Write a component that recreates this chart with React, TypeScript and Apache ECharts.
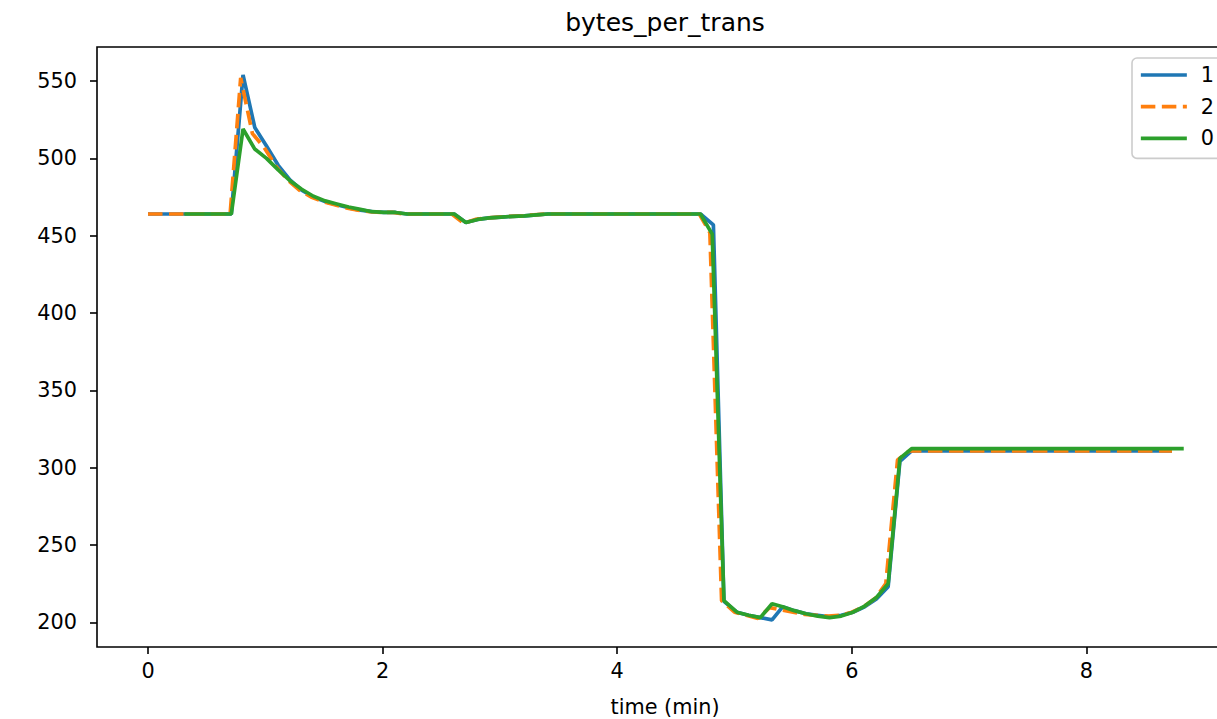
import React, { useEffect, useRef } from "react";
import * as echarts from "echarts";

// ---- data ----
const time1 = [0, 0.71, 0.81, 0.91, 1.01, 1.11, 1.21, 1.31, 1.41, 1.51, 1.61, 1.71, 1.81, 1.91, 2.01, 2.11, 2.21, 2.61, 2.71, 2.81, 2.91, 3.01, 3.11, 3.21, 3.31, 3.41, 4.71, 4.82, 4.91, 5.02, 5.12, 5.22, 5.32, 5.41, 5.51, 5.61, 5.71, 5.81, 5.91, 6.01, 6.11, 6.21, 6.31, 6.41, 6.51, 8.73];
const bytes1 = [464, 464, 554, 520, 508, 495.5, 486, 479.5, 475, 472, 470, 468, 466.5, 465.5, 465, 465, 464, 464, 458.5, 460.5, 461.5, 462, 462.5, 462.8, 463.5, 464, 464, 457, 213.5, 206.5, 204.5, 203, 201.5, 210, 207.5, 205.5, 204.5, 203.5, 204.5, 206.5, 210, 215, 223, 304, 310.8, 310.8];

const time2 = [0, 0.7, 0.79, 0.89, 0.99, 1.09, 1.19, 1.29, 1.39, 1.49, 1.59, 1.69, 1.79, 1.89, 1.99, 2.09, 2.19, 2.59, 2.69, 2.79, 2.89, 2.99, 3.09, 3.19, 3.29, 3.39, 4.7, 4.79, 4.89, 5.0, 5.1, 5.2, 5.3, 5.4, 5.5, 5.6, 5.7, 5.8, 5.9, 6.0, 6.1, 6.2, 6.29, 6.39, 6.49, 8.73];
const bytes2 = [464, 464, 552, 516, 507, 495, 486, 479.5, 475, 472, 470, 468, 466.5, 465.5, 465, 465, 464, 464, 458, 460.5, 461.5, 462, 462.5, 462.8, 463.5, 464, 464, 452, 214, 206.5, 204.5, 202.5, 209.5, 208, 206.5, 205, 204.5, 204, 204.5, 206.5, 210, 215.5, 225, 305, 310.8, 310.8];

const time0 = [0.31, 0.71, 0.81, 0.91, 1.01, 1.11, 1.21, 1.31, 1.41, 1.51, 1.61, 1.71, 1.81, 1.91, 2.01, 2.11, 2.21, 2.61, 2.71, 2.81, 2.91, 3.01, 3.11, 3.21, 3.31, 3.41, 4.71, 4.81, 4.91, 5.02, 5.12, 5.22, 5.32, 5.41, 5.51, 5.61, 5.71, 5.81, 5.91, 6.01, 6.11, 6.21, 6.31, 6.41, 6.51, 8.83];
const bytes0 = [464, 464, 519, 506, 500, 492.5, 485.5, 480, 475.5, 472.5, 470.5, 468.5, 467, 465.5, 465, 465, 464, 464, 458.5, 460.5, 461.5, 462, 462.5, 462.8, 463.5, 464, 464, 451, 214, 206.5, 204.5, 203, 212, 210, 207.5, 205.5, 204, 203, 204, 206.5, 210.5, 216, 225, 306, 312.3, 312.3];

const xTicks = [0, 2, 4, 6, 8];
const yTicks = [200, 250, 300, 350, 400, 450, 500, 550];
const seriesNames = ["1", "2", "0"];
const chartTitle = "bytes_per_trans";
const xName = "time (min)";

const FONT = "DejaVu Sans";

function zip(t: number[], v: number[]) {
  return t.map((x, i) => [x, v[i]]);
}

export default function App() {
  const ref = useRef<HTMLDivElement>(null);
  useEffect(() => {
    if (!ref.current) return;
    const chart = echarts.init(ref.current, undefined, { renderer: "svg" });
    const lineW = 3.7;
    chart.setOption({
      animation: false,
      backgroundColor: "#ffffff",
      textStyle: { fontFamily: FONT },
      graphic: [
        {
          type: "text",
          x: 665,
          y: 22,
          style: {
            text: chartTitle,
            fontSize: 25,
            fontFamily: FONT,
            fill: "#000",
            align: "center",
            verticalAlign: "middle",
            textAlign: "center",
            textVerticalAlign: "middle",
          },
        },
      ],
      grid: {
        left: 97,
        top: 47,
        right: 27,
        bottom: 72,
        show: true,
        borderColor: "#000",
        borderWidth: 1.6,
        backgroundColor: "transparent",
        containLabel: false,
        outerBoundsMode: "none",
      },
      legend: {
        orient: "vertical",
        left: 1132,
        top: 58,
        padding: [5, 10, 8, 7],
        itemGap: 7.7,
        itemWidth: 46,
        itemHeight: 14,
        data: seriesNames,
        textStyle: {
          fontSize: 20.8,
          color: "#000",
          fontFamily: FONT,
          lineHeight: 24,
          padding: [0, 0, 0, 9],
        },
        borderColor: "#cccccc",
        borderWidth: 1.6,
        borderRadius: 5,
        backgroundColor: "rgba(255,255,255,0.8)",
        itemStyle: { color: "rgba(0,0,0,0)", borderWidth: 0 },
        lineStyle: { width: lineW },
      },
      xAxis: {
        type: "value",
        min: -0.435,
        max: 9.25,
        splitLine: { show: false },
        axisLine: { show: false, onZero: false },
        axisTick: {
          show: true,
          length: 7,
          lineStyle: { color: "#000", width: 1.6 },
          customValues: xTicks,
        },
        axisLabel: {
          customValues: xTicks,
          fontSize: 20.8,
          color: "#000",
          fontFamily: FONT,
          margin: 13,
        },
        name: xName,
        nameLocation: "middle",
        nameGap: 49,
        nameTextStyle: { fontSize: 20.8, color: "#000", fontFamily: FONT },
      },
      yAxis: {
        type: "value",
        min: 184,
        max: 572,
        splitLine: { show: false },
        axisLine: { show: false, onZero: false },
        axisTick: {
          show: true,
          length: 7,
          lineStyle: { color: "#000", width: 1.6 },
          customValues: yTicks,
        },
        axisLabel: {
          customValues: yTicks,
          fontSize: 20.8,
          color: "#000",
          fontFamily: FONT,
          margin: 20,
        },
      },
      series: [
        {
          name: seriesNames[0],
          type: "line",
          data: zip(time1, bytes1),
          symbol: "none",
          showSymbol: false,
          color: "#1f77b4",
          lineStyle: { color: "#1f77b4", width: lineW },
        },
        {
          name: seriesNames[1],
          type: "line",
          data: zip(time2, bytes2),
          symbol: "none",
          showSymbol: false,
          color: "#ff7f0e",
          lineStyle: { color: "#ff7f0e", width: lineW, type: [14.5, 6.5], cap: "butt" },
        },
        {
          name: seriesNames[2],
          type: "line",
          data: zip(time0, bytes0),
          symbol: "none",
          showSymbol: false,
          color: "#2ca02c",
          lineStyle: { color: "#2ca02c", width: lineW },
        },
      ],
    });
    return () => chart.dispose();
  }, []);
  return (
    <div
      style={{
        position: "fixed",
        left: 0,
        top: 0,
        width: 1217,
        height: 719,
        overflow: "hidden",
        background: "#fff",
      }}
    >
      <div ref={ref} style={{ width: 1260, height: 719 }} />
    </div>
  );
}
